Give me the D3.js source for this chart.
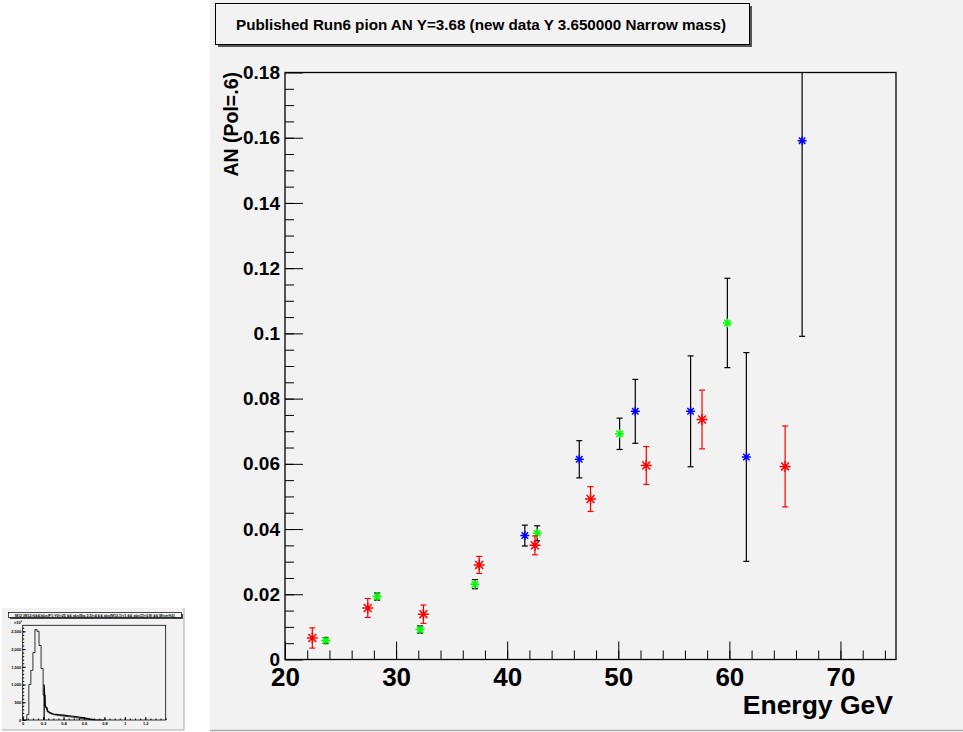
<!DOCTYPE html>
<html>
<head>
<meta charset="utf-8">
<script src="https://cdn.jsdelivr.net/npm/d3@7"></script>
<style>
  body { margin: 0; background: #fff; }
  text { font-family: "Liberation Sans", Arial, Helvetica, sans-serif; }
</style>
</head>
<body>
<svg id="svg" width="963" height="732"></svg>
<script>
var svg = d3.select("#svg");

// ---- data ----
var redE   = [22.46, 27.45, 32.46, 37.48, 42.5, 47.5, 52.52, 57.54, 65.02];
var redAN  = [0.0066, 0.0158, 0.0139, 0.0290, 0.0350, 0.0492, 0.0595, 0.0736, 0.0592];
var redErr = [0.0031, 0.0029, 0.0028, 0.0026, 0.0029, 0.0038, 0.0058, 0.0090, 0.0124];

var greenE   = [23.67, 28.29, 32.16, 37.09, 42.7, 50.12, 59.82];
var greenAN  = [0.0058, 0.0193, 0.0092, 0.0231, 0.0387, 0.0692, 0.1032];
var greenErr = [0.0009, 0.0011, 0.0011, 0.0014, 0.0023, 0.0048, 0.0137];

var blueE   = [41.59, 46.49, 51.53, 56.51, 61.53, 66.55];
var blueAN  = [0.0380, 0.0614, 0.0761, 0.0761, 0.0621, 0.1591];
var blueErr = [0.0032, 0.0057, 0.0098, 0.0170, 0.0320, 0.0600];

var xTicks = [20, 30, 40, 50, 60, 70];
var yTicks = [0, 0.02, 0.04, 0.06, 0.08, 0.1, 0.12, 0.14, 0.16, 0.18];
var yTickLabels = ["0", "0.02", "0.04", "0.06", "0.08", "0.1", "0.12", "0.14", "0.16", "0.18"];

// small inset histogram (mass), bins of 0.02 starting at 0
var massBinWidth = 0.02;
var massCounts = [0, 0, 150, 1000, 1400, 1900, 2550, 2500, 2100, 1450, 700, 350, 230, 190, 165, 150,
                  140, 130, 122, 115, 108, 100, 95, 88, 80, 72, 64, 55, 46, 38, 30, 23, 17, 12, 8, 5, 3, 2, 1, 0];
var fitX = [0.21, 0.21, 0.22, 0.25, 0.3, 0.35, 0.4, 0.45, 0.5, 0.55, 0.6, 0.65, 0.7];
var fitY = [0, 1000, 420, 230, 170, 150, 135, 120, 105, 85, 60, 30, 10];
var insetXTicks = [0, 0.2, 0.4, 0.6, 0.8, 1, 1.2];
var insetXLabels = ["0", "0.2", "0.4", "0.6", "0.8", "1", "1.2"];
var insetYTicks = [0, 500, 1000, 1500, 2000, 2500];

var title = "Published Run6 pion AN Y=3.68 (new data Y 3.650000 Narrow mass)";
var insetTitle = "M12 {M12>0&&(abs(F1:Y0)<25 && abs(Ew-3.5)<4 && abs(M12-1)<1 && abs(Z)<0.8) && Mism%3}";

var bg = "#f2f2f2";

// ---- inset pad ----
var inset = svg.append("g");
inset.append("rect").attr("x", 2).attr("y", 608).attr("width", 182).attr("height", 122).attr("fill", bg);
inset.append("line").attr("x1", 184).attr("x2", 184).attr("y1", 608).attr("y2", 730).attr("stroke", "#aaa");
inset.append("line").attr("x1", 2).attr("x2", 184).attr("y1", 730).attr("y2", 730).attr("stroke", "#aaa");

var ix = d3.scaleLinear().domain([0, 1.4]).range([22.7, 165.7]);
var iy = d3.scaleLinear().domain([0, 2670]).range([720, 625.3]);

inset.append("rect").attr("x", 10).attr("y", 614).attr("width", 173).attr("height", 5).attr("fill", "#444");
inset.append("rect").attr("x", 8.5).attr("y", 612.5).attr("width", 173).attr("height", 5)
    .attr("fill", bg).attr("stroke", "#000").attr("stroke-width", 0.7);
inset.append("text").attr("x", 95).attr("y", 616.6).attr("text-anchor", "middle")
    .attr("font-size", 3.6).attr("font-weight", "bold").attr("textLength", 160).text(insetTitle);

var histPts = [[0, 0]];
massCounts.forEach(function (c, i) {
    histPts.push([i * massBinWidth, c]);
    histPts.push([(i + 1) * massBinWidth, c]);
});
histPts.push([massCounts.length * massBinWidth, 0]);
inset.append("path")
    .attr("d", d3.line().x(function (d) { return ix(d[0]); }).y(function (d) { return iy(d[1]); })(histPts))
    .attr("fill", "none").attr("stroke", "#000").attr("stroke-width", 0.8);
inset.append("path")
    .attr("d", d3.line().x(function (d, i) { return ix(d); }).y(function (d, i) { return iy(fitY[i]); })(fitX))
    .attr("fill", "none").attr("stroke", "#000").attr("stroke-width", 1.2);

inset.append("rect").attr("x", ix(0)).attr("y", iy(2670)).attr("width", ix(1.4) - ix(0)).attr("height", iy(0) - iy(2670))
    .attr("fill", "none").attr("stroke", "#000").attr("stroke-width", 0.8);

inset.append("g").attr("transform", "translate(0," + iy(0) + ")")
    .call(d3.axisBottom(ix).tickValues(insetXTicks).tickSize(-3).tickPadding(2)
        .tickFormat(function (d, i) { return insetXLabels[i]; }))
    .call(function (g) {
        g.select(".domain").remove();
        g.selectAll("text").attr("font-size", 4).attr("font-family", "Liberation Sans, Arial").attr("font-weight", "bold");
    });
inset.append("g").attr("transform", "translate(0," + iy(0) + ")")
    .call(d3.axisBottom(ix).ticks(28).tickSize(-1.5).tickFormat(""))
    .call(function (g) { g.select(".domain").remove(); });
inset.append("g").attr("transform", "translate(" + ix(0) + ",0)")
    .call(d3.axisLeft(iy).tickValues(insetYTicks).tickSize(-3).tickPadding(1.5))
    .call(function (g) {
        g.select(".domain").remove();
        g.selectAll("text").attr("font-size", 4).attr("font-family", "Liberation Sans, Arial").attr("font-weight", "bold");
    });
inset.append("g").attr("transform", "translate(" + ix(0) + ",0)")
    .call(d3.axisLeft(iy).ticks(26).tickSize(-1.5).tickFormat(""))
    .call(function (g) { g.select(".domain").remove(); });
inset.append("text").attr("x", 14).attr("y", 624).attr("font-size", 4).attr("font-weight", "bold").text("×10³");

// ---- main pad ----
svg.append("rect").attr("x", 210).attr("y", 0).attr("width", 753).attr("height", 730).attr("fill", bg);
svg.append("line").attr("x1", 210).attr("x2", 963).attr("y1", 730.5).attr("y2", 730.5)
    .attr("stroke", "#aaa").attr("stroke-width", 1.5);

var x = d3.scaleLinear().domain([20, 75]).range([285, 896]);
var y = d3.scaleLinear().domain([0, 0.18]).range([659.5, 72.5]);

var main = svg.append("g");

// frame
main.append("rect").attr("x", x(20)).attr("y", y(0.18)).attr("width", x(75) - x(20)).attr("height", y(0) - y(0.18))
    .attr("fill", "none").attr("stroke", "#000").attr("stroke-width", 1.3);

// minor ticks
main.append("g").attr("transform", "translate(0," + y(0) + ")")
    .call(d3.axisBottom(x).tickValues(d3.range(22, 75, 2)).tickSize(-9).tickFormat(""))
    .call(function (g) { g.select(".domain").remove(); });
main.append("g").attr("transform", "translate(" + x(20) + ",0)")
    .call(d3.axisLeft(y).tickValues(d3.range(1, 36).map(function (k) { return k * 0.005; })).tickSize(-9).tickFormat(""))
    .call(function (g) { g.select(".domain").remove(); });

// major ticks with labels
main.append("g").attr("transform", "translate(0," + y(0) + ")")
    .call(d3.axisBottom(x).tickValues(xTicks).tickSize(-18).tickPadding(8))
    .call(function (g) {
        g.select(".domain").remove();
        g.selectAll("text").attr("font-size", 26).attr("font-weight", "bold")
            .attr("font-family", "Liberation Sans, Arial").attr("fill", "#000");
    });
main.append("g").attr("transform", "translate(" + x(20) + ",0)")
    .call(d3.axisLeft(y).tickValues(yTicks).tickSize(-18).tickPadding(5)
        .tickFormat(function (d, i) { return yTickLabels[i]; }))
    .call(function (g) {
        g.select(".domain").remove();
        g.selectAll("text").attr("font-size", 19).attr("font-weight", "bold")
            .attr("font-family", "Liberation Sans, Arial").attr("fill", "#000");
    });
main.selectAll(".tick line").attr("stroke", "#000");

// axis titles
main.append("text").attr("x", 893).attr("y", 714).attr("text-anchor", "end")
    .attr("font-size", 26.5).attr("font-weight", "bold").text("Energy GeV");
main.append("text").attr("transform", "translate(238,72) rotate(-90)").attr("text-anchor", "end")
    .attr("font-size", 19.5).attr("font-weight", "bold").text("AN (Pol=.6)");

// title box
main.append("rect").attr("x", 218).attr("y", 6).attr("width", 534).attr("height", 41).attr("fill", "#555");
main.append("rect").attr("x", 215.5).attr("y", 3.5).attr("width", 534).attr("height", 41)
    .attr("fill", bg).attr("stroke", "#000").attr("stroke-width", 1);
main.append("text").attr("x", 481).attr("y", 29.5).attr("text-anchor", "middle")
    .attr("font-size", 15).attr("font-weight", "bold")
    .attr("textLength", 490).attr("lengthAdjust", "spacingAndGlyphs").text(title);

// ---- data series ----
function series(E, A, err, color, barColor, r) {
    var pts = E.map(function (e, i) { return { e: e, a: A[i], s: err[i] }; });
    var g = main.append("g");
    var bars = g.selectAll("g.bar").data(pts).enter().append("g").attr("class", "bar");
    bars.append("line")
        .attr("x1", function (d) { return x(d.e); }).attr("x2", function (d) { return x(d.e); })
        .attr("y1", function (d) { return y(Math.min(0.18, d.a + d.s)); })
        .attr("y2", function (d) { return y(d.a - d.s); })
        .attr("stroke", barColor).attr("stroke-width", 1.2);
    bars.append("line")
        .attr("x1", function (d) { return x(d.e) - 3; }).attr("x2", function (d) { return x(d.e) + 3; })
        .attr("y1", function (d) { return y(d.a - d.s); }).attr("y2", function (d) { return y(d.a - d.s); })
        .attr("stroke", barColor).attr("stroke-width", 1.2);
    bars.filter(function (d) { return d.a + d.s < 0.18; }).append("line")
        .attr("x1", function (d) { return x(d.e) - 3; }).attr("x2", function (d) { return x(d.e) + 3; })
        .attr("y1", function (d) { return y(d.a + d.s); }).attr("y2", function (d) { return y(d.a + d.s); })
        .attr("stroke", barColor).attr("stroke-width", 1.2);
    var d7 = r * 0.72;
    g.selectAll("path.mk").data(pts).enter().append("path").attr("class", "mk")
        .attr("transform", function (d) { return "translate(" + x(d.e) + "," + y(d.a) + ")"; })
        .attr("d", "M" + (-r) + ",0H" + r + "M0," + (-r) + "V" + r +
                   "M" + (-d7) + "," + (-d7) + "L" + d7 + "," + d7 +
                   "M" + (-d7) + "," + d7 + "L" + d7 + "," + (-d7))
        .attr("stroke", color).attr("stroke-width", 1.5).attr("fill", "none");
}

series(greenE, greenAN, greenErr, "#00ff00", "#000", 4.5);
series(blueE, blueAN, blueErr, "#0000ff", "#000", 4.5);
series(redE, redAN, redErr, "#ff0000", "#ff0000", 5.5);
</script>
</body>
</html>
